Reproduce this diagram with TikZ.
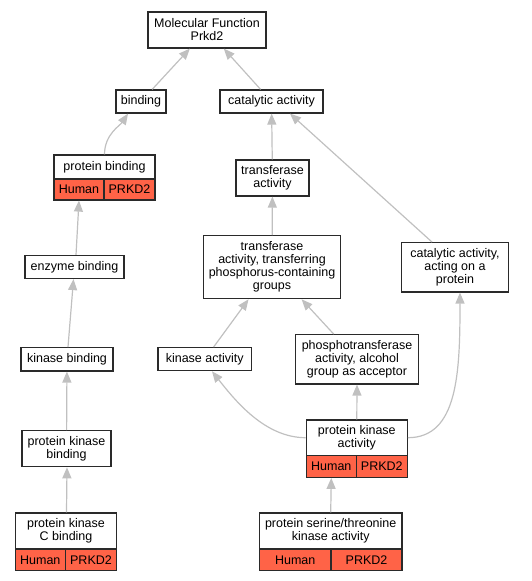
\documentclass[tikz,border=0pt]{standalone}
\usepackage{fontspec}
\setmainfont{Liberation Sans}
\usetikzlibrary{arrows.meta}
\definecolor{tomatoc}{HTML}{FF6347}
\definecolor{edgegray}{HTML}{C0C0C0}
\definecolor{borderc}{HTML}{2A2A2A}
\tikzset{
  box/.style={draw=borderc, line width=1.2pt, fill=white, inner sep=0pt, align=center,
    font=\fontsize{12.5}{13}\selectfont},
  cell/.style={box, fill=tomatoc},
  edge/.style={draw=edgegray, line width=1.2pt, -{Triangle[length=11pt,width=9pt]}}
}
\begin{document}
\begin{tikzpicture}[x=1pt,y=-1pt]
\useasboundingbox (0,0) rectangle (532,581);
% plain nodes
\node[box, minimum width=118pt, minimum height=36pt] (mf) at (207,30) {Molecular Function\\Prkd2};
\node[box, minimum width=50pt, minimum height=23pt] (bind) at (141,101.5) {binding};
\node[box, minimum width=103pt, minimum height=23pt] (cat) at (271.5,101.5) {catalytic activity};
\node[box, minimum width=73pt, minimum height=36pt] (ta) at (272.5,178) {transferase\\activity};
\node[box, minimum width=99pt, minimum height=23pt] (eb) at (74.5,267) {enzyme binding};
\node[box, minimum width=137.7pt, minimum height=63pt] (tp) at (272,267.2) {transferase\\activity, transferring\\phosphorus-containing\\groups};
\node[box, minimum width=106.6pt, minimum height=49.3pt] (caop) at (455,267.3) {catalytic activity,\\acting on a\\protein};
\node[box, minimum width=92pt, minimum height=23.3pt] (kb) at (67,359.3) {kinase binding};
\node[box, minimum width=93.3pt, minimum height=23pt] (ka) at (204.7,359.2) {kinase activity};
\node[box, minimum width=122.6pt, minimum height=49.3pt] (pt) at (357,359.3) {phosphotransferase\\activity, alcohol\\group as acceptor};
\node[box, minimum width=89pt, minimum height=36pt] (pkb) at (66.5,448.7) {protein kinase\\binding};
% record: protein binding
\node[box, minimum width=101pt, minimum height=24pt] (pb) at (104.5,167) {protein binding};
\node[cell, minimum width=50pt, minimum height=21pt] (pbH) at (79,189.5) {Human};
\node[cell, minimum width=51pt, minimum height=21pt] (pbP) at (129.5,189.5) {PRKD2};
% record: protein kinase activity
\node[box, minimum width=101pt, minimum height=35.3pt] (pka) at (356.8,437.7) {protein kinase\\activity};
\node[cell, minimum width=50pt, minimum height=22pt] (pkaH) at (331.3,466.3) {Human};
\node[cell, minimum width=51pt, minimum height=22pt] (pkaP) at (381.8,466.3) {PRKD2};
% record: protein kinase C binding
\node[box, minimum width=101.4pt, minimum height=36pt] (pkcb) at (66,531) {protein kinase\\C binding};
\node[cell, minimum width=50pt, minimum height=21.7pt] (pkcbH) at (40.3,559.8) {Human};
\node[cell, minimum width=51.4pt, minimum height=21.7pt] (pkcbP) at (91,559.8) {PRKD2};
% record: protein serine/threonine kinase activity
\node[box, minimum width=142.7pt, minimum height=36pt] (pst) at (330.7,531) {protein serine/threonine\\kinase activity};
\node[cell, minimum width=71.7pt, minimum height=21.7pt] (pstH) at (295.2,559.8) {Human};
\node[cell, minimum width=71pt, minimum height=21.7pt] (pstP) at (366.5,559.8) {PRKD2};
% edges
\draw[edge] (bind) -- (mf);
\draw[edge] (cat) -- (mf);
\draw[edge] (pb.north) .. controls +(0,-20) and +(-8,12) .. ([xshift=-13pt]bind.south);
\draw[edge] (ta) -- (cat);
\draw[edge] ([xshift=-23pt]caop.north) -- ([xshift=18.5pt]cat.south);
\draw[edge] (tp) -- (ta);
\draw[edge] ([xshift=1.5pt]eb.north) -- (pbH.south);
\draw[edge] (kb) -- (eb);
\draw[edge] (ka) -- (tp);
\draw[edge] (pt) -- (tp);
\draw[edge] (pkb) -- (kb);
\draw[edge] (pka.west) .. controls +(-41,0) and +(23,29) .. ([xshift=7.3pt]ka.south);
\draw[edge] (pka.north) -- (pt.south);
\draw[edge] (pka.east) .. controls +(50,0) and +(0,80) .. ([xshift=5pt]caop.south);
\draw[edge] ([xshift=0.5pt]pkcb.north) -- ([xshift=0.5pt]pkb.south);
\draw[edge] (pst.north) -- (pkaH.south);
\end{tikzpicture}
\end{document}
